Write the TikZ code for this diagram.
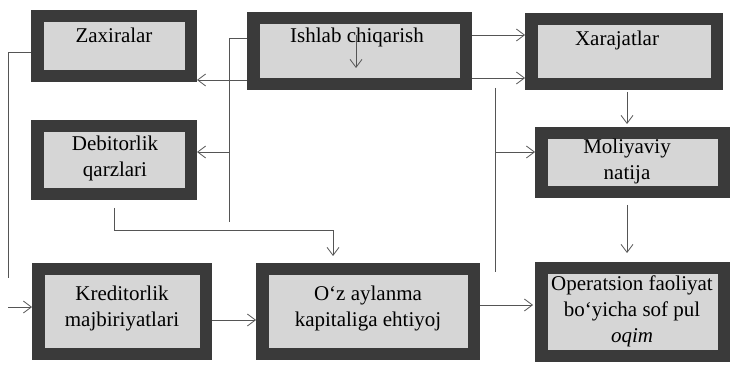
\documentclass[tikz,border=0pt]{standalone}
\usepackage{fontspec}
\setmainfont{Liberation Serif}
\usetikzlibrary{arrows.meta}
\definecolor{boxdark}{HTML}{3A3A3A}
\definecolor{boxlight}{HTML}{D6D6D6}
\definecolor{linec}{HTML}{555555}
\begin{document}
\begin{tikzpicture}[x=1pt,y=-1pt,
  ln/.style={draw=linec,line width=0.8pt},
  arr/.style={ln,-{Straight Barb[length=8pt,width=12pt]}},
  box/.style={rectangle,fill=boxdark,inner sep=0pt,outer sep=0pt,
    path picture={\fill[boxlight] ([xshift=13pt,yshift=-12pt]path picture bounding box.north west) rectangle ([xshift=-12pt,yshift=12pt]path picture bounding box.south east);}},
  txt/.style={font=\fontsize{21}{26}\selectfont,align=center,inner sep=0pt,text=black}]
\fill[white] (0,0) rectangle (739,366);
\useasboundingbox (0,0) rectangle (739,366);

% boxes
\node[box,minimum width=166pt,minimum height=72pt] (zax) at (114,46) {};
\node[box,minimum width=225pt,minimum height=78pt] (ish) at (359.5,51) {};
\node[box,minimum width=198pt,minimum height=77pt] (xar) at (624,51.5) {};
\node[box,minimum width=195pt,minimum height=71pt] (mol) at (632.5,162.5) {};
\node[box,minimum width=166pt,minimum height=80pt] (deb) at (114,160) {};
\node[box,minimum width=180pt,minimum height=97pt] (kre) at (122,311.5) {};
\node[box,minimum width=224pt,minimum height=97pt] (oz) at (368,311.5) {};
\node[box,minimum width=195pt,minimum height=100pt] (ope) at (632.5,312) {};

% texts
\node[txt,anchor=base] (zaxt) at (114,43) {Zaxiralar};
\node[txt,anchor=base] (isht) at (357,43) {Ishlab chiqarish};
\node[txt,anchor=base] (xart) at (617,46) {Xarajatlar};
\node[txt] (molt) at (627,161) {Moliyaviy\\natija};
\node[txt] (debt) at (115,158) {Debitorlik\\qarzlari};
\node[txt] (kret) at (122,308) {Kreditorlik\\majbiriyatlari};
\node[txt] (ozt) at (368,308) {O‘z aylanma\\kapitaliga ehtiyoj};
\node[txt] (opet) at (632,311) {Operatsion faoliyat\\bo‘yicha sof pul\\\textit{oqim}};

% connectors
\coordinate (zl) at (8,52);
\coordinate (zend) at (8,278);
\draw[ln] (zax.west |- zl) -- (zl) -- (zend);
\coordinate (kin) at (8,307);
\draw[arr] (kin) -- (kin -| kre.west);

\coordinate (il) at (229,38);
\coordinate (iend) at (229,222);
\draw[ln] (ish.west |- il) -- (il) -- (iend);
\coordinate (db) at (229,152);
\draw[arr] (db) -- (db -| deb.east);

\coordinate (a80) at (0,80);
\draw[arr] (a80 -| ish.west) -- (a80 -| zax.east);
\coordinate (a35) at (0,35);
\coordinate (a78) at (0,78);
\draw[arr] (a35 -| ish.east) -- (a35 -| xar.west);
\draw[arr] (a78 -| ish.east) -- (a78 -| xar.west);

\coordinate (vt) at (495,88);
\coordinate (vb) at (495,272);
\draw[ln] (vt) -- (vb);
\coordinate (mb) at (495,152);
\draw[arr] (mb) -- (mb -| mol.west);

\coordinate (xm) at (627,0);
\draw[arr,shorten <=2pt,shorten >=3pt] (xm |- xar.south) -- (xm |- mol.north);
\draw[arr,shorten <=7pt,shorten >=9pt] (xm |- mol.south) -- (xm |- ope.north);

\coordinate (dtop) at (114,208);
\coordinate (dc) at (114,230);
\coordinate (oc) at (333,230);
\draw[arr,shorten >=7pt] (dtop) -- (dc) -- (oc) -- (oc |- oz.north);

\coordinate (y320) at (0,320);
\draw[arr] (y320 -| kre.east) -- (y320 -| oz.west);
\coordinate (y305) at (0,305);
\draw[arr,shorten >=2pt] (y305 -| oz.east) -- (y305 -| ope.west);

\coordinate (it) at (356,35);
\coordinate (ib) at (356,68);
\draw[arr] (it) -- (ib);
\end{tikzpicture}
\end{document}
